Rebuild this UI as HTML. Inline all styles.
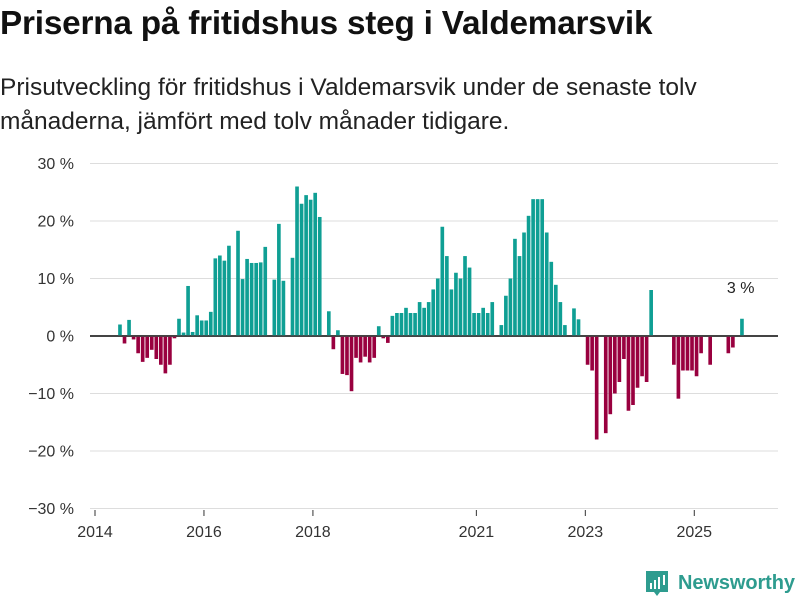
<!DOCTYPE html>
<html><head><meta charset="utf-8">
<style>
html,body{margin:0;padding:0;background:#fff;}
body{width:800px;height:600px;position:relative;overflow:hidden;font-family:"Liberation Sans",sans-serif;color:#111;}
#title{position:absolute;left:0;top:5px;font-size:33.3px;font-weight:bold;letter-spacing:-0.2px;white-space:nowrap;}
#subtitle{position:absolute;left:0;top:71px;font-size:24.5px;line-height:34px;color:#222;white-space:nowrap;}
svg{position:absolute;left:0;top:0;}
</style></head><body>
<div id="title">Priserna på fritidshus steg i Valdemarsvik</div>
<div id="subtitle">Prisutveckling för fritidshus i Valdemarsvik under de senaste tolv<br>månaderna, jämfört med tolv månader tidigare.</div>
<svg id="chart" width="800" height="600"></svg>
<script>
// monthly values starting Jan 2014 (null = no data)
const values = [null,null,null,null,null,2,-1.3,2.8,-0.6,-3,-4.5,-3.8,
-2.4,-4,-5,-6.5,-5,-0.4,3,0.6,8.7,0.7,3.6,2.7,
2.7,4.2,13.5,14,13.1,15.7,null,18.3,9.9,13.4,12.7,12.7,
12.8,15.5,null,9.8,19.5,9.6,null,13.6,26,23,24.5,23.7,
24.9,20.7,null,4.3,-2.3,1.0,-6.6,-6.8,-9.6,-3.8,-4.6,-3.6,
-4.6,-3.8,1.7,-0.4,-1.2,3.5,4.0,4.0,4.9,4.0,4.0,5.9,
4.9,5.9,8.1,10.0,19.0,13.9,8.1,11.0,10.0,13.9,11.9,4.0,
4.0,4.9,4.0,5.9,null,1.9,7.0,10.0,16.9,13.9,18.0,20.9,
23.8,23.8,23.8,18.0,12.9,8.9,5.9,1.9,null,4.8,2.9,null,
-5.0,-6.0,-18.0,null,-16.9,-13.6,-10.0,-8.0,-4.0,-13.0,-12.0,-9.0,
-7.0,-8.0,8.0,null,null,null,null,-5.0,-10.9,-6.0,-6.0,-6.0,
-7.0,-3.0,null,-5.0,null,null,null,-3.0,-2.0,null,3.0];
const yTicks = [30,20,10,0,-10,-20,-30];
const yTickLabels = ["30 %","20 %","10 %","0 %","−10 %","−20 %","−30 %"];
const xTickYears = [2014,2016,2018,2021,2023,2025];
const lastLabel = "3 %";

const NS="http://www.w3.org/2000/svg";
const svg=document.getElementById('chart');
const x0=95, monthW=4.54;
const xMonth=i=>x0+i*monthW;
const y=v=>336-v*5.75;
function mk(tag,attrs){const e=document.createElementNS(NS,tag);for(const k in attrs)e.setAttribute(k,attrs[k]);svg.appendChild(e);return e;}
yTicks.forEach((t,i)=>{
  const g=mk('line',{x1:90,x2:778,y1:y(t),y2:y(t),stroke:t===0?'#444':'#ddd','stroke-width':t===0?2:1});
  
  
  const tx=mk('text',{x:74,y:y(t)+5.5,'text-anchor':'end','font-size':16,fill:'#333','font-family':'Liberation Sans, sans-serif'});
  tx.textContent=yTickLabels[i];
  
  
});
xTickYears.forEach(yr=>{
  const xx=xMonth((yr-2014)*12);
  const l=mk('line',{x1:xx,x2:xx,y1:510,y2:516,stroke:'#333','stroke-width':1});
  
  
  const tx=mk('text',{x:xx,y:537,'text-anchor':'middle','font-size':16,fill:'#333','font-family':'Liberation Sans, sans-serif'});
  tx.textContent=String(yr);
  
  
});
values.forEach((v,i)=>{
  if(v===null)return;
  const xx=xMonth(i)+0.45;
  const top=v>=0?y(v):y(0);
  const h=Math.abs(y(v)-y(0));
  const r=mk('rect',{x:xx,y:top,width:3.65,height:h,fill:v>=0?'#0f9f94':'#99003f'});
  
  
});
const zl=mk('line',{x1:90,x2:778,y1:y(0),y2:y(0),stroke:'#444','stroke-width':1.6});


const li=values.length-1;
const lab=mk('text',{x:xMonth(li)+1,y:y(values[li])-26,'text-anchor':'middle','font-size':16,fill:'#222','font-family':'Liberation Sans, sans-serif'});
lab.textContent=lastLabel;


// logo
const lg=mk('g',{});


const ic=document.createElementNS(NS,'path');
ic.setAttribute('d','M646 571h22v21h-8l-3 4-3-4h-8z');
ic.setAttribute('fill','#2e9c8f');
lg.appendChild(ic);
[[650,583,2,6],[654,580,2,9],[658,577,2,12],[663,575,2,10]].forEach(b=>{
  const r=document.createElementNS(NS,'rect');
  r.setAttribute('x',b[0]);r.setAttribute('y',b[1]);r.setAttribute('width',b[2]);r.setAttribute('height',b[3]);r.setAttribute('fill','#fff');
  lg.appendChild(r);
});
const lt=document.createElementNS(NS,'text');
lt.setAttribute('x',678);lt.setAttribute('y',589);lt.setAttribute('font-size',20);lt.setAttribute('font-weight','bold');
lt.setAttribute('fill','#2e9c8f');lt.setAttribute('font-family','Liberation Sans, sans-serif');
lt.setAttribute('textLength','117');
lt.textContent='Newsworthy';
lg.appendChild(lt);
</script>
</body></html>
